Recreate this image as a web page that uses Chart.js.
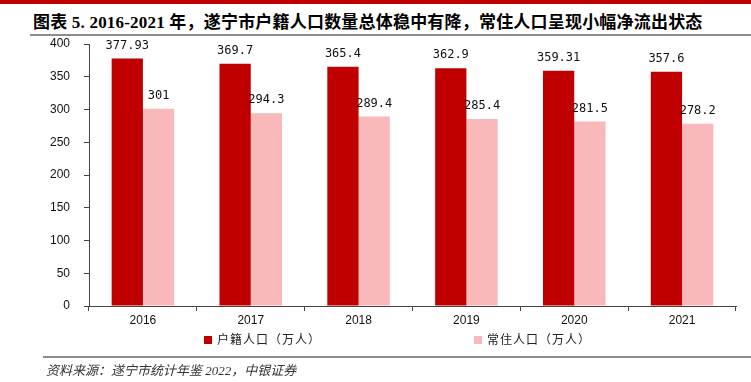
<!DOCTYPE html>
<html>
<head>
<meta charset="utf-8">
<script src="https://cdn.jsdelivr.net/npm/chart.js@4"></script>
<style>
  body { margin: 0; width: 751px; height: 382px; background: #fff; position: relative; overflow: hidden; }
  #topbar { position: absolute; left: 0; top: 0; width: 751px; height: 4px; background: #c00000; }
  #title { position: absolute; left: 33px; top: 8px; font: bold 17px "Liberation Serif", "Noto Sans CJK SC", serif; color: #000; white-space: nowrap; letter-spacing: 0.2px; }
  #titleline { position: absolute; left: 30px; top: 34px; width: 721px; height: 2px; background: #8c8c8c; }
  #wrap { position: absolute; left: 0; top: 0; width: 751px; height: 382px; }
  .leg { position: absolute; top: 330px; font: 12px "Noto Sans CJK SC", sans-serif; color: #222; white-space: nowrap; letter-spacing: 1px; }
  .leg i { display: inline-block; width: 8px; height: 8px; margin-right: 5px; vertical-align: 0px; }
  #footline { position: absolute; left: 43px; top: 356px; width: 708px; height: 2px; background: #8c8c8c; }
  #source { position: absolute; left: 46px; top: 360px; font: italic 13px "Liberation Serif", "Noto Sans CJK SC", serif; color: #333; white-space: nowrap; }
</style>
</head>
<body>
<div id="topbar"></div>
<div id="title">图表 5. 2016-2021 年，遂宁市户籍人口数量总体稳中有降，常住人口呈现小幅净流出状态</div>
<div id="titleline"></div>
<div id="wrap"><canvas id="c" width="751" height="382"></canvas></div>
<div class="leg" style="left:204px"><i style="background:#c00000"></i>户籍人口（万人）</div>
<div class="leg" style="left:474px"><i style="background:#f9b8b9"></i>常住人口（万人）</div>
<div id="footline"></div>
<div id="source">资料来源：遂宁市统计年鉴 2022，中银证券</div>
<script>
const years = ['2016', '2017', '2018', '2019', '2020', '2021'];
const registered = [377.93, 369.7, 365.4, 362.9, 359.31, 357.6];
const resident = [301, 294.3, 289.4, 285.4, 281.5, 278.2];
const yTicks = [0, 50, 100, 150, 200, 250, 300, 350, 400];

// value labels above each bar
const barLabels = {
  id: 'barLabels',
  afterDatasetsDraw(chart) {
    const ctx = chart.ctx;
    ctx.save();
    ctx.font = '12px "DejaVu Sans Mono", monospace';
    ctx.fillStyle = '#111';
    ctx.textAlign = 'center';
    ctx.textBaseline = 'bottom';
    chart.data.datasets.forEach((ds, i) => {
      chart.getDatasetMeta(i).data.forEach((bar, j) => {
        ctx.fillText(String(ds.data[j]), bar.x, bar.y - 7);
      });
    });
    ctx.restore();
  }
};

new Chart(document.getElementById('c'), {
  type: 'bar',
  data: {
    labels: years,
    datasets: [
      { label: '户籍人口（万人）', data: registered, backgroundColor: '#c00000', borderWidth: 0 },
      { label: '常住人口（万人）', data: resident, backgroundColor: '#f9b8b9', borderWidth: 0 }
    ]
  },
  options: {
    responsive: false,
    animation: false,
    layout: { padding: { top: 44, right: 15, bottom: 56, left: 0 } },
    datasets: { bar: { barPercentage: 1, categoryPercentage: 0.58 } },
    plugins: { legend: { display: false }, tooltip: { enabled: false } },
    scales: {
      x: {
        grid: { display: true, drawOnChartArea: false, offset: true, color: '#444', tickLength: 5 },
        border: { color: '#444' },
        ticks: { color: '#111', font: { size: 12, family: '"Liberation Sans", Arial' }, padding: 2 },
        afterFit(scale) { scale.height = 20; }
      },
      y: {
        min: 0, max: 400,
        afterBuildTicks(scale) { scale.ticks = yTicks.map(v => ({ value: v })); },
        grid: { display: true, drawOnChartArea: false, color: '#444', tickLength: 5 },
        border: { color: '#444' },
        ticks: { color: '#111', font: { size: 12, family: '"Liberation Sans", Arial' }, padding: 14 },
        afterFit(scale) { scale.width = 89; }
      }
    }
  },
  plugins: [barLabels]
});
</script>
</body>
</html>
